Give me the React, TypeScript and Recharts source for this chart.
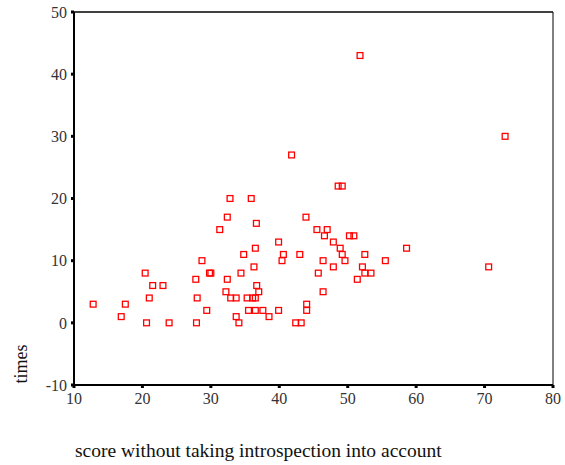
import React from "react";
import { ScatterChart, Scatter, XAxis, YAxis, ReferenceLine, Label } from "recharts";

const scoreValues = [
  12.8, 16.9, 17.5, 20.4, 21.0, 21.5, 23.0, 20.6, 23.9, 27.9, 27.8, 28.0, 28.7, 29.4, 29.8, 30.0,
  32.8, 35.9, 32.4, 36.65, 31.3, 39.9, 36.5, 34.8, 40.6, 40.4, 43.0, 36.3, 32.4, 34.4, 36.7, 32.2,
  37.0, 32.9, 33.7, 35.3, 36.1, 36.5, 35.5, 36.5, 37.6, 39.9, 33.7, 38.5, 34.1, 42.4, 43.2, 44.0,
  44.0, 46.4, 45.7, 47.9, 46.4, 43.9, 45.5, 47.0, 46.6, 47.9, 48.9, 48.6, 49.2, 50.25, 50.9, 49.2,
  52.5, 49.6, 55.5, 58.6, 52.15, 52.5, 53.4, 51.4, 51.8, 73.0, 70.6, 41.8,
];
const timesValues = [
  3, 1, 3, 8, 4, 6, 6, 0, 0, 0, 7, 4, 10, 2, 8, 8,
  20, 20, 17, 16, 15, 13, 12, 11, 11, 10, 11, 9, 7, 8, 6, 5,
  5, 4, 4, 4, 4, 4, 2, 2, 2, 2, 1, 1, 0, 0, 0, 3,
  2, 5, 8, 9, 10, 17, 15, 15, 14, 13, 12, 22, 22, 14, 14, 11,
  11, 10, 10, 12, 9, 8, 8, 7, 43, 30, 9, 27,
];
const xTicks = [10, 20, 30, 40, 50, 60, 70, 80];
const yTicks = [-10, 0, 10, 20, 30, 40, 50];
const xTitle = "score without taking introspection into account";
const yTitle = "times";

const data = scoreValues.map((x, i) => ({ x, y: timesValues[i] }));

const FONT = "'Liberation Serif', 'Times New Roman', serif";

const Marker = (props: any) => {
  const { cx, cy } = props;
  if (cx == null || cy == null) return null;
  return (
    <rect x={cx - 2.9} y={cy - 2.9} width={5.8} height={5.8} fill="none" stroke="#ff0000" strokeWidth={1.3} />
  );
};

export default function App() {
  return (
    <div style={{ position: "absolute", left: 0, top: 0, width: 565, height: 465, background: "#fff" }}>
      <ScatterChart width={565} height={465} margin={{ top: 12, right: 12, left: 0, bottom: 0 }}>
        <XAxis
          type="number"
          dataKey="x"
          domain={[10, 80]}
          ticks={xTicks}
          allowDataOverflow
          height={80}
          axisLine={{ stroke: "#000", strokeWidth: 2 }}
          tickLine={{ stroke: "#000", strokeWidth: 3 }}
          tickSize={3}
          tickMargin={5}
          tick={{ fill: "#333", fontSize: 16, fontFamily: FONT }}
        >
          <Label
            content={() => (
              <text x={75} y={457} fill="#111" fontSize={19.5} fontFamily={FONT} textAnchor="start">
                {xTitle}
              </text>
            )}
          />
        </XAxis>
        <YAxis
          type="number"
          dataKey="y"
          domain={[-10, 50]}
          ticks={yTicks}
          allowDataOverflow
          width={74}
          axisLine={{ stroke: "#000", strokeWidth: 2 }}
          tickLine={{ stroke: "#000", strokeWidth: 3 }}
          tickSize={3}
          tickMargin={4}
          tick={{ fill: "#333", fontSize: 16, fontFamily: FONT }}
        >
          <Label
            content={() => (
              <text
                x={27}
                y={364}
                transform="rotate(-90, 27, 364)"
                fill="#111"
                fontSize={18}
                fontFamily={FONT}
                textAnchor="middle"
              >
                {yTitle}
              </text>
            )}
          />
        </YAxis>
        <ReferenceLine y={50} stroke="#000" strokeWidth={1.5} ifOverflow="visible" />
        <ReferenceLine x={80} stroke="#000" strokeWidth={1} ifOverflow="visible" />
        <Scatter data={data} isAnimationActive={false} shape={Marker} />
      </ScatterChart>
    </div>
  );
}
